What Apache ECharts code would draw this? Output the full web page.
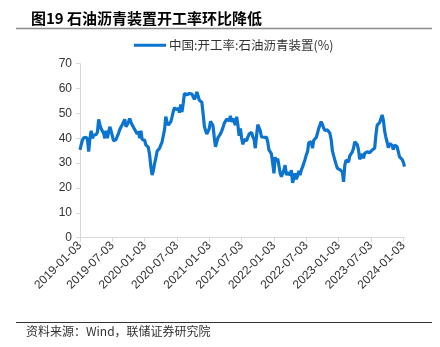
<!DOCTYPE html>
<html><head><meta charset="utf-8">
<script src="https://cdn.jsdelivr.net/npm/echarts@6/dist/echarts.min.js"></script>
<style>html,body{margin:0;padding:0;background:#fff}#c{width:440px;height:347px}</style>
</head><body><div id="c"></div>
<script>
const titleText = '图19 石油沥青装置开工率环比降低';
const sourceText = '资料来源：Wind，联储证券研究院';
const seriesName = '中国:开工率:石油沥青装置(%)';
const startDate = '2019-01-03';
const tickLabels = ['2019-01-03','2019-07-03','2020-01-03','2020-07-03','2021-01-03','2021-07-03','2022-01-03','2022-07-03','2023-01-03','2023-07-03','2024-01-03'];
const tickEvery = 26;
const yTicks = [0,10,20,30,40,50,60,70];
const rate = [
35.3,37.5,39.3,40.2,40.9,40.4,39.5,34.6,40.0,43.0,
40.0,41.2,42.0,41.5,42.4,47.6,45.5,43.8,43.0,42.0,
40.0,43.0,40.0,42.5,44.6,43.0,41.0,39.0,39.2,39.5,
40.8,42.0,43.5,44.5,45.5,46.0,47.6,44.6,45.5,46.5,
48.0,46.5,45.3,44.5,43.5,43.0,41.7,42.7,40.0,43.0,
39.5,40.0,39.2,37.3,36.8,36.3,33.3,28.6,25.2,26.9,
29.9,32.0,34.8,35.5,36.0,36.6,38.5,41.0,43.5,48.7,
46.5,45.3,46.0,46.6,48.5,50.7,52.4,51.5,51.0,52.0,
50.3,53.6,50.6,54.0,58.0,57.8,57.5,57.8,58.0,58.4,
57.8,57.0,55.7,56.8,58.6,57.0,55.3,55.9,54.5,50.0,
45.0,43.1,41.7,42.8,44.0,46.8,46.0,45.0,40.3,36.6,
38.5,40.3,41.0,41.8,43.0,44.3,46.0,46.8,47.7,47.2,
47.0,49.0,46.6,48.0,46.5,45.3,48.7,45.3,41.0,44.0,
40.0,37.5,39.6,39.3,39.0,40.5,41.7,41.0,42.4,40.6,
39.6,36.0,41.0,45.5,46.0,43.0,40.5,39.8,40.4,40.4,
40.4,38.5,35.3,34.5,33.7,32.9,25.9,32.4,30.7,31.8,
29.0,25.9,24.5,26.0,27.2,29.2,25.2,26.2,26.0,25.2,
27.2,22.1,24.0,25.9,23.5,25.0,26.9,25.2,27.2,28.5,
29.9,31.5,33.3,34.6,38.2,38.4,38.6,36.0,39.2,38.6,
40.3,42.0,44.0,45.3,46.7,45.5,44.0,43.1,42.5,43.4,
43.0,42.0,39.5,35.0,33.0,31.2,29.5,27.9,27.7,27.4,
27.2,26.5,22.5,29.2,31.2,30.8,30.5,32.9,32.4,34.5,
36.0,38.6,38.2,37.5,35.3,31.5,32.8,33.7,31.9,33.9,
34.2,34.6,34.4,34.2,34.8,35.3,35.8,36.0,41.3,45.3,
46.0,46.3,46.3,49.4,47.3,43.0,40.5,38.5,36.2,37.9,
37.5,37.2,35.5,37.2,36.9,36.6,34.6,32.5,31.8,31.5,30.5,28.6
];
// weekly category dates
const dates = rate.map((_, i) => {
  const d = new Date(startDate + 'T00:00:00Z');
  d.setUTCDate(d.getUTCDate() + 7 * i);
  return d.toISOString().slice(0, 10);
});
const cjk = '"Noto Sans CJK SC", "Liberation Sans", sans-serif';
const latin = '"Liberation Sans", Arial, sans-serif';
const chart = echarts.init(document.getElementById('c'), null, {renderer: 'canvas'});
const showTick = (i) => i % tickEvery === 0;
chart.setOption({
  animation: false,
  backgroundColor: '#fff',
  title: {
    text: titleText, left: 26, top: 6,
    textStyle: {fontFamily: cjk, fontSize: 15, fontWeight: 'bold', color: '#000'}
  },
  legend: {
    left: 129, top: 34, icon: 'rect', itemWidth: 32, itemHeight: 3, itemGap: 10,
    textStyle: {fontFamily: cjk, fontSize: 12.5, color: '#333', padding: [0, 0, 0, -2]},
    data: [seriesName]
  },
  grid: {left: 80, right: 35.5, top: 63.7, bottom: 109.3, containLabel: false},
  xAxis: {
    type: 'category', data: dates, boundaryGap: false,
    axisLine: {lineStyle: {color: '#d9d9d9', width: 1}},
    axisTick: {show: true, length: 4, interval: (i) => showTick(i), lineStyle: {color: '#d9d9d9'}},
    axisLabel: {
      interval: (i) => showTick(i), rotate: 45, margin: 6,
      fontFamily: latin, fontSize: 12, color: '#333',
      formatter: (v, i) => tickLabels[Math.round(i / tickEvery)] || ''
    },
    splitLine: {show: false}
  },
  yAxis: {
    type: 'value', min: yTicks[0], max: yTicks[yTicks.length - 1], interval: 10,
    axisLine: {show: true, lineStyle: {color: '#d9d9d9', width: 1}},
    axisTick: {show: true, length: 4, lineStyle: {color: '#d9d9d9'}},
    axisLabel: {fontFamily: latin, fontSize: 12, color: '#333', margin: 8},
    splitLine: {show: false}
  },
  series: [{
    name: seriesName, type: 'line', data: rate, symbol: 'none',
    lineStyle: {color: '#0b74d1', width: 3.2},
    itemStyle: {color: '#0b74d1'}
  }],
  graphic: [
    {type: 'line', shape: {x1: 16, y1: 28.5, x2: 432, y2: 28.5}, style: {stroke: '#8c8c8c', lineWidth: 1.5}},
    {type: 'line', shape: {x1: 16, y1: 322.5, x2: 432, y2: 322.5}, style: {stroke: '#333', lineWidth: 1}},
    {type: 'text', left: 26, top: 325, style: {text: sourceText, font: '12px ' + cjk, fill: '#333'}}
  ]
});
</script></body></html>
